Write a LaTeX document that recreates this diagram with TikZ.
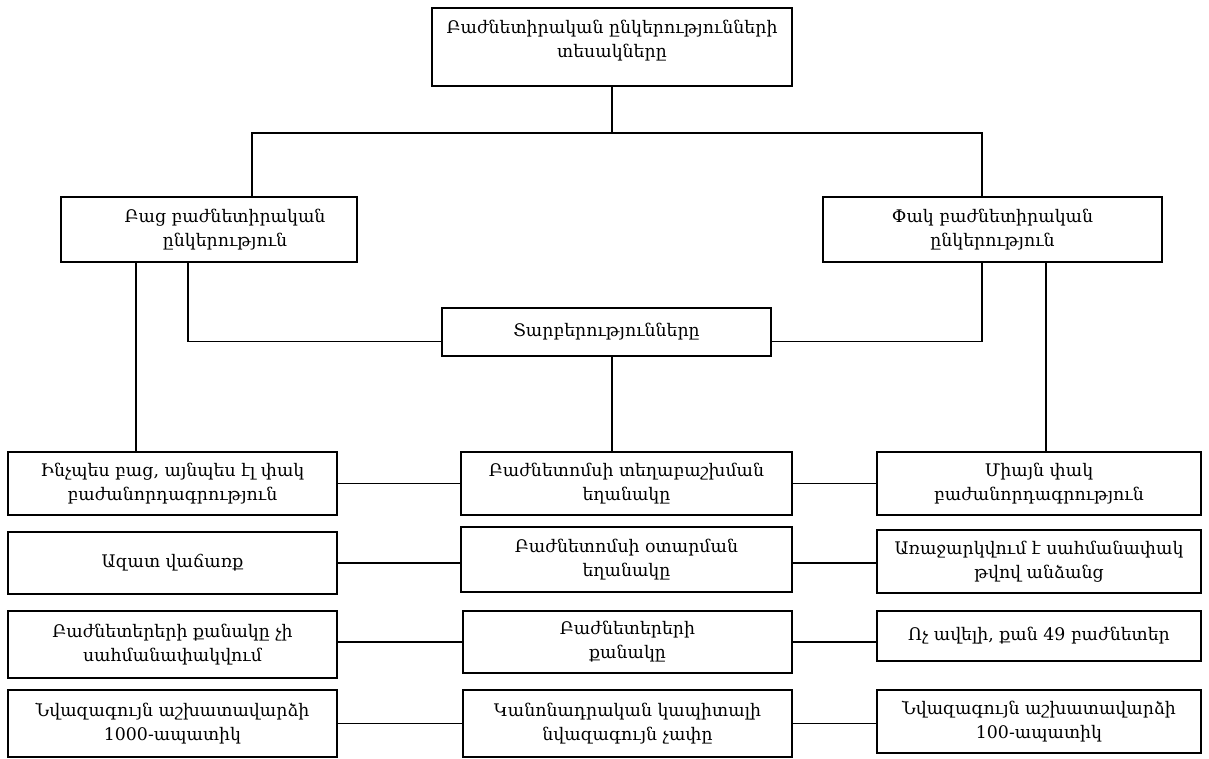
\documentclass[tikz,border=0pt]{standalone}
\usepackage{fontspec}
\setmainfont{DejaVu Serif}
\newcommand\bxnode[7][]{\node[bx, minimum width={(#5-#3)*0.75pt}, minimum height={(#6-#4)*0.75pt}, #1] (#2) at ({(#3+#5)/2},{(#4+#6)/2}) {#7};}
\begin{document}
\begin{tikzpicture}[x=0.75pt,y=-0.75pt,
  bx/.style={draw, line width=0.9pt, inner sep=0pt, align=center,
    font=\fontsize{13}{18}\selectfont},
  ln/.style={line width=0.8pt}]
\useasboundingbox (0,0) rectangle (1209,758);
\bxnode[text depth=13pt]{top}{432}{8}{792}{86}{Բաժնետիրական ընկերությունների\\տեսակները}
\bxnode{bac}{61}{197}{357}{262}{\hspace*{24pt}Բաց բաժնետիրական\\\hspace*{24pt}ընկերություն}
\bxnode{pak}{823}{197}{1162}{262}{Փակ բաժնետիրական\\ընկերություն}
\bxnode{tarb}{442}{308}{771}{356}{Տարբերությունները}
\bxnode{r1l}{8}{452}{337}{515}{Ինչպես բաց, այնպես էլ փակ\\բաժանորդագրություն}
\bxnode{r1m}{461}{452}{792}{515}{Բաժնետոմսի տեղաբաշխման\\եղանակը}
\bxnode{r1r}{877}{452}{1201}{515}{Միայն փակ\\բաժանորդագրություն}
\bxnode{r2l}{8}{532}{337}{594}{Ազատ վաճառք}
\bxnode{r2m}{461}{527}{792}{592}{Բաժնետոմսի օտարման\\եղանակը}
\bxnode{r2r}{877}{530}{1201}{593}{Առաջարկվում է սահմանափակ\\թվով անձանց}
\bxnode{r3l}{8}{611}{337}{678}{Բաժնետերերի քանակը չի\\սահմանափակվում}
\bxnode{r3m}{463}{611}{792}{673}{Բաժնետերերի\\քանակը}
\bxnode{r3r}{877}{611}{1201}{661}{Ոչ ավելի, քան 49 բաժնետեր}
\bxnode{r4l}{8}{690}{337}{757}{Նվազագույն աշխատավարձի\\1000-ապատիկ}
\bxnode{r4m}{463}{690}{792}{757}{Կանոնադրական կապիտալի\\նվազագույն չափը}
\bxnode{r4r}{877}{690}{1201}{753}{Նվազագույն աշխատավարձի\\100-ապատիկ}
\coordinate (hl) at (252,133);
\coordinate (hr) at (982,133);
\coordinate (cA) at (136,0);
\coordinate (cB) at (188,0);
\coordinate (cC) at (612,0);
\coordinate (cD) at (1046,0);
\draw[ln] (top.south) -- (top.south |- hl);
\draw[ln] (bac.north -| hl) -- (hl) -- (hr) -- (pak.north -| hr);
\draw[ln] (bac.south -| cA) -- (r1l.north -| cA);
\draw[ln] (bac.south -| cB) |- ([yshift=11.25pt]tarb.south west);
\draw[ln] (pak.south -| hr) |- ([yshift=11.25pt]tarb.south east);
\draw[ln] (pak.south -| cD) -- (r1r.north -| cD);
\draw[ln] (tarb.south -| cC) -- (r1m.north -| cC);
\draw[ln] (r1l.east) -- (r1l.east -| r1m.west);
\draw[ln] (r1l.east -| r1m.east) -- (r1l.east -| r1r.west);
\draw[ln] (r2l.east) -- (r2l.east -| r2m.west);
\draw[ln] (r2l.east -| r2m.east) -- (r2l.east -| r2r.west);
\draw[ln] (r3m.west -| r3l.east) -- (r3m.west);
\draw[ln] (r3m.east) -- (r3m.east -| r3r.west);
\draw[ln] (r4l.east) -- (r4l.east -| r4m.west);
\draw[ln] (r4l.east -| r4m.east) -- (r4l.east -| r4r.west);
\end{tikzpicture}
\end{document}
